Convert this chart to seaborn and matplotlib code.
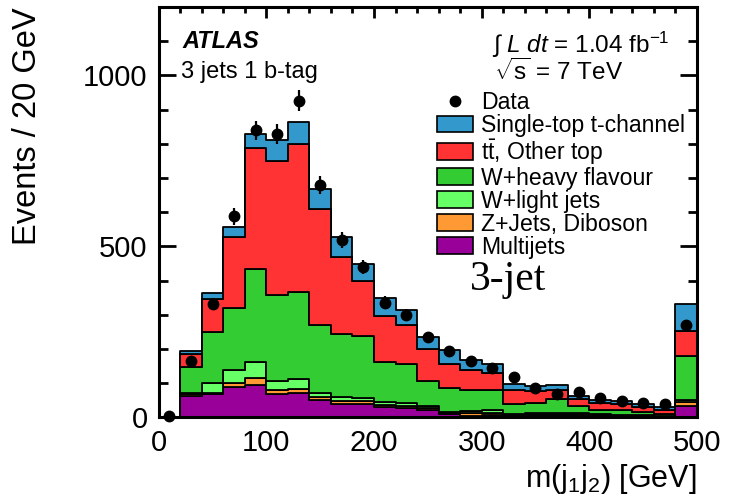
import numpy as np
import pandas as pd
import matplotlib
matplotlib.use("Agg")
import matplotlib.pyplot as plt
from matplotlib.patches import Patch
from matplotlib.lines import Line2D
from matplotlib.ticker import MultipleLocator
import seaborn as sns

# ---------------- data (events per 20 GeV bin, last bin = overflow) ----------------
bin_low = [0, 20, 40, 60, 80, 100, 120, 140, 160, 180, 200, 220, 240,
           260, 280, 300, 320, 340, 360, 380, 400, 420, 440, 460, 480]
multijets = [0, 64, 68, 89, 96, 68, 71, 51, 40, 40, 30, 27, 22,
             10, 5, 8, 6, 7, 7, 7, 4, 5, 4, 2, 34]
zjets_diboson = [0, 6, 5, 13, 19, 13, 13, 8, 8, 9, 7, 7, 7,
                 3, 7, 5, 2, 2, 2, 2, 2, 1, 1, 1, 10]
w_light = [0, 3, 29, 36, 46, 27, 28, 14, 11, 9, 8, 8, 5,
           4, 8, 9, 3, 3, 3, 3, 3, 2, 2, 2, 7]
w_heavy = [0, 76, 149, 183, 273, 250, 256, 196, 184, 180, 116, 115, 73,
           69, 60, 59, 27, 30, 42, 22, 13, 13, 8, 5, 129]
ttbar_other = [0, 37, 95, 208, 353, 392, 431, 339, 225, 160, 135, 112, 92,
               69, 60, 49, 43, 34, 25, 20, 20, 19, 16, 13, 72]
single_top = [0, 7, 17, 29, 43, 61, 66, 59, 59, 52, 52, 45, 37,
              42, 28, 26, 17, 17, 17, 9, 8, 8, 8, 9, 79]
data = [4, 164, 331, 588, 839, 828, 926, 679, 519, 439, 336, 300, 235,
        194, 164, 145, 118, 86, 68, 74, 58, 48, 41, 40, 269]

labels = ["Single-top t-channel", r"t$\bar{\mathrm{t}}$, Other top", "W+heavy flavour",
          "W+light jets", "Z+Jets, Diboson", "Multijets"]
colors = ["#3399cc", "#ff3333", "#33cc33", "#66ff66", "#ff9933", "#990099"]
series = [single_top, ttbar_other, w_heavy, w_light, zjets_diboson, multijets]

# ---------------- build tidy table ----------------
width = 20
centers = np.array(bin_low, float) + width / 2
rows = []
for lab, vals in zip(labels, series):
    for c, v in zip(centers, vals):
        rows.append({"mjj": c, "events": v, "process": lab})
df = pd.DataFrame(rows)

# ---------------- style ----------------
sns.set_theme(style="ticks")
plt.rcParams["font.family"] = ["Liberation Sans", "DejaVu Sans"]
plt.rcParams["text.color"] = "black"
plt.rcParams["axes.labelcolor"] = "black"
plt.rcParams["mathtext.fontset"] = "custom"
plt.rcParams["mathtext.rm"] = "Liberation Sans"
plt.rcParams["mathtext.it"] = "Liberation Sans:italic"
plt.rcParams["mathtext.bf"] = "Liberation Sans:bold"

fig = plt.figure(figsize=(7.36, 4.97), dpi=100)
ax = fig.add_axes([0.2156, 0.16, 0.7314, 0.826])

sns.histplot(data=df, x="mjj", weights="events", hue="process", hue_order=labels,
             multiple="stack", binwidth=width, binrange=(bin_low[0], bin_low[-1] + width),
             element="step", palette=colors,
             alpha=1, edgecolor="black", linewidth=1.3, legend=False, ax=ax)

ax.errorbar(centers, data, yerr=np.sqrt(data), fmt="o", color="black",
            ms=7.5, elinewidth=1.6, capsize=0, zorder=10, clip_on=False)

ax.set_xlim(0, 500)
ax.set_ylim(0, 1200)
ax.xaxis.set_major_locator(MultipleLocator(100))
ax.xaxis.set_minor_locator(MultipleLocator(20))
ax.yaxis.set_major_locator(MultipleLocator(500))
ax.yaxis.set_minor_locator(MultipleLocator(100))
ax.tick_params(which="both", direction="in", top=True, right=True,
               colors="black", labelsize=21, width=2)
ax.tick_params(axis="y", which="major", length=12, pad=8)
ax.tick_params(axis="y", which="minor", length=6.5)
ax.tick_params(axis="x", which="major", length=8, pad=8)
ax.tick_params(axis="x", which="minor", length=4)
for sp in ax.spines.values():
    sp.set_linewidth(2.2)
    sp.set_color("black")

ax.set_xlabel(r"m(j$_{1}$j$_{2}$) [GeV]", fontsize=22, loc="right", labelpad=4)
ax.set_ylabel("Events / 20 GeV", fontsize=23.5, loc="top")
ax.yaxis.set_label_coords(-0.215, 1.0)

# ---------------- annotations ----------------
ax.text(0.045, 0.915, "ATLAS", transform=ax.transAxes, fontsize=17,
        fontweight="bold", fontstyle="italic", va="center", ha="left")
ax.text(0.041, 0.842, "3 jets 1 b-tag", transform=ax.transAxes, fontsize=17,
        va="center", ha="left")
ax.text(0.619, 0.907, r"$\int$ $L$ $dt$ = 1.04 fb$^{-1}$", transform=ax.transAxes,
        fontsize=17.5, va="center", ha="left")
ax.text(0.623, 0.842, r"$\sqrt{\mathrm{s}}$ = 7 TeV", transform=ax.transAxes,
        fontsize=17.5, va="center", ha="left")
ax.text(0.578, 0.311, "3-jet", transform=ax.transAxes, fontsize=30,
        family="Liberation Serif", va="baseline", ha="left")

handles = [Line2D([], [], marker="o", color="black", ls="none", ms=7.5)]
handles += [Patch(facecolor=c, edgecolor="black", linewidth=1.2) for c in colors]
leg = ax.legend(handles, ["Data"] + labels, loc="upper left",
                bbox_to_anchor=(0.517, 0.795), frameon=False, fontsize=16.6,
                borderpad=0, labelspacing=0.0, handlelength=1.55,
                handleheight=0.7, handletextpad=0.35, borderaxespad=0)

fig.savefig("out.png", dpi=100)
